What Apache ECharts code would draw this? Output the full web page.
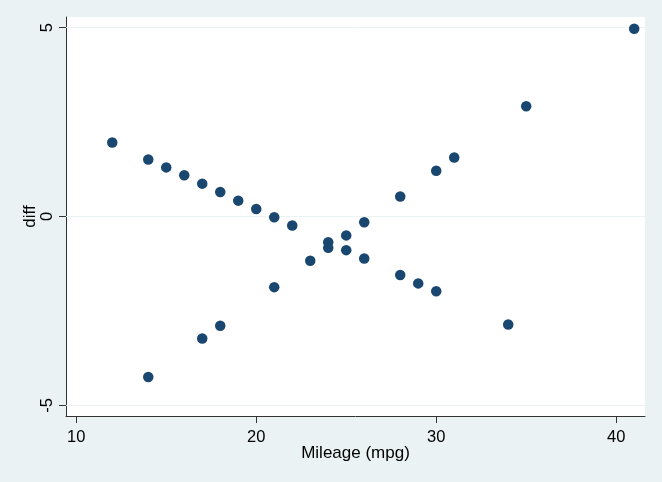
<!DOCTYPE html>
<html>
<head>
<meta charset="utf-8">
<script src="https://cdn.jsdelivr.net/npm/echarts@6/dist/echarts.min.js"></script>
<style>
html,body{margin:0;padding:0;background:#EAF2F3;}
#chart{width:662px;height:482px;}
</style>
</head>
<body>
<div id="chart"></div>
<script>
const mpg = [12, 14, 15, 16, 17, 18, 19, 20, 21, 22, 24, 25, 26, 28, 29, 30, 34,
             14, 17, 18, 21, 23, 24, 25, 26, 28, 30, 31, 35, 41];
const diff = [1.96, 1.51, 1.30, 1.09, 0.87, 0.65, 0.42, 0.20, -0.02, -0.24, -0.68, -0.89, -1.11, -1.55, -1.77, -1.98, -2.86,
              -4.25, -3.23, -2.89, -1.87, -1.17, -0.83, -0.50, -0.15, 0.53, 1.21, 1.56, 2.92, 4.97];
const xTicks = [10, 20, 30, 40];
const yTicks = [-5, 0, 5];
const xTitle = 'Mileage (mpg)';
const yTitle = 'diff';

const points = mpg.map((m, i) => [m, diff[i]]);
const font = 'Liberation Sans, Arial, sans-serif';

const chart = echarts.init(document.getElementById('chart'), null, {renderer: 'canvas'});
chart.setOption({
  backgroundColor: '#EAF2F3',
  animation: false,
  grid: {left: 66, right: 17, top: 17, bottom: 66, show: true, backgroundColor: '#ffffff', borderWidth: 0},
  xAxis: {
    type: 'value', min: 9.43, max: 41.6,
    name: xTitle, nameLocation: 'middle', nameGap: 29, nameMoveOverlap: false,
    nameTextStyle: {fontFamily: font, fontSize: 17, color: '#000'},
    axisLine: {show: true, onZero: false, lineStyle: {color: '#333333', width: 1}},
    axisTick: {show: true, length: 7, customValues: xTicks, lineStyle: {color: '#333333'}},
    axisLabel: {customValues: xTicks, margin: 13, fontFamily: font, fontSize: 16.5, color: '#000'},
    splitLine: {show: false}
  },
  yAxis: {
    type: 'value', min: -5.28, max: 5.28,
    name: yTitle, nameLocation: 'middle', nameGap: 27, nameRotate: 90, nameMoveOverlap: false,
    nameTextStyle: {fontFamily: font, fontSize: 17, color: '#000'},
    axisLine: {show: true, onZero: false, lineStyle: {color: '#333333', width: 1}},
    axisTick: {show: true, length: 7, customValues: yTicks, lineStyle: {color: '#333333'}},
    axisLabel: {customValues: yTicks, rotate: 90, margin: 10, fontFamily: font, fontSize: 16.5, color: '#000'},
    splitLine: {show: false}
  },
  series: [{
    type: 'scatter',
    data: points,
    symbol: 'circle',
    symbolSize: 10.5,
    itemStyle: {color: '#1a476f', opacity: 1},
    markLine: {
      silent: true, symbol: 'none', label: {show: false}, z: 1,
      lineStyle: {color: '#EAF2F3', type: 'solid', width: 1},
      data: yTicks.map(v => ({yAxis: v}))
    }
  }]
});
</script>
</body>
</html>
